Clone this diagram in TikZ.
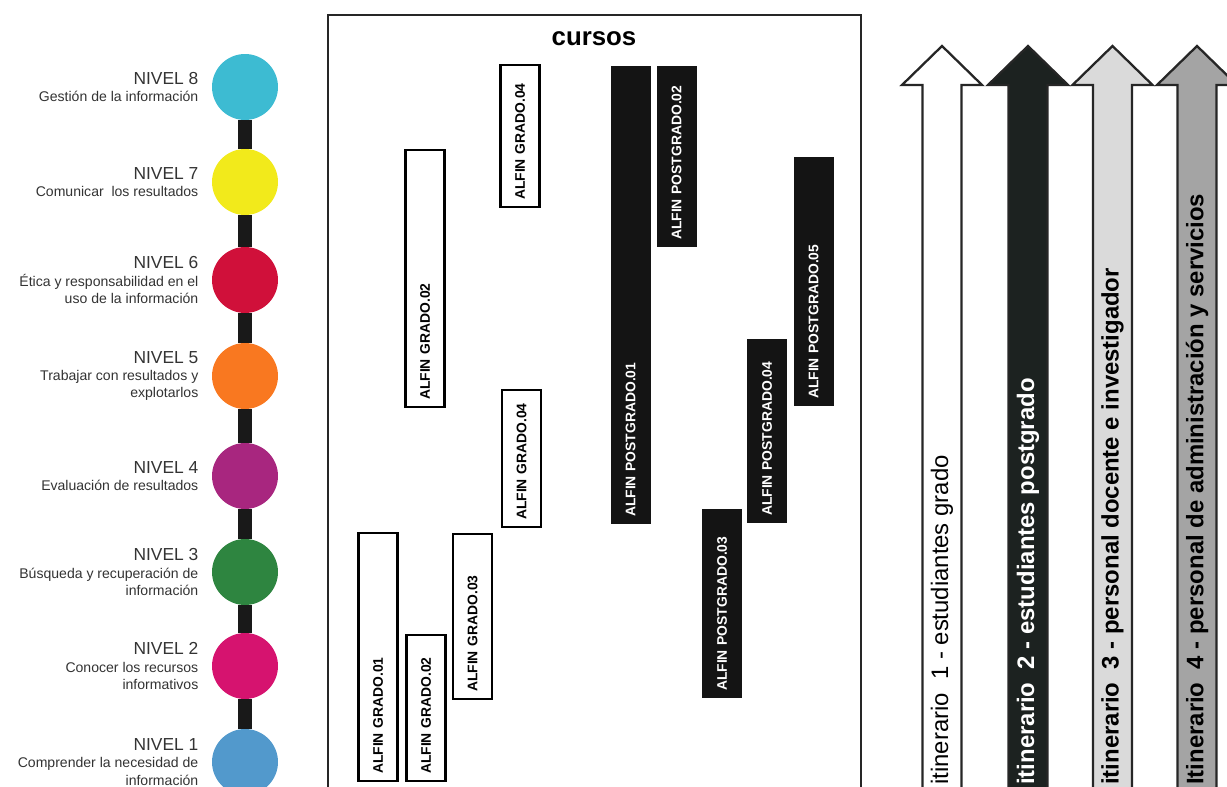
\documentclass[tikz,border=0pt]{standalone}
\usepackage{fontspec}
\setmainfont{Liberation Sans}
\usetikzlibrary{positioning,backgrounds}

\definecolor{niv8}{HTML}{3DBBD2}
\definecolor{niv7}{HTML}{F2EA1B}
\definecolor{niv6}{HTML}{D0103A}
\definecolor{niv5}{HTML}{F97820}
\definecolor{niv4}{HTML}{A8267F}
\definecolor{niv3}{HTML}{2E8540}
\definecolor{niv2}{HTML}{D6136F}
\definecolor{niv1}{HTML}{5299CC}
\definecolor{oscuro}{HTML}{1C2220}
\definecolor{grisclaro}{HTML}{DADADA}
\definecolor{grismedio}{HTML}{A4A4A4}

\newcommand{\nivfont}{\fontsize{9.9}{11}\selectfont}

\tikzset{
  nivel/.style={circle, minimum size=1.32cm, inner sep=0pt},
  nivtexto/.style={align=right, text=black!80, inner sep=0pt,
                   font=\fontsize{8}{9.8}\selectfont},
  enlace/.style={line width=8pt, black!90},
  caja/.style={line width=1.1pt, black!85, line join=miter},
  grado/.style={draw, line width=1.3pt, fill=white, rotate=90, anchor=west,
                minimum height=0.78cm, inner xsep=0.14cm, inner ysep=0pt,
                align=left, font=\bfseries\fontsize{7.9}{8}\selectfont},
  postgrado/.style={grado, draw=none, fill=black!92, text=white,
                    minimum height=0.8cm},
  flecha/.style={draw=black!85, line width=1.3pt, line join=miter},
  itin/.style={rotate=90, anchor=west, inner sep=0pt,
               font=\fontsize{13.6}{14}\selectfont},
  itinb/.style={itin, font=\bfseries\fontsize{13.6}{14}\selectfont},
  itinw/.style={itinb, text=white}
}

\begin{document}
\begin{tikzpicture}[x=0.02cm, y=-0.02cm]
     \useasboundingbox (0,0) rectangle (1227,787);
     \clip (0,0) rectangle (1227,787);

     % levels of competence
     \foreach \i/\y in {8/87,7/182,6/280,5/376,4/476,3/572,2/666,1/762}
         \node[nivel, fill=niv\i] (n\i) at (245,\y) {};
     \begin{pgfonlayer}{background}
     \foreach \i [evaluate=\i as \j using int(\i-1)] in {8,...,2}
         \draw[enlace] (n\i) -- (n\j);
     \end{pgfonlayer}
     \foreach \i/\txt in {8/Gestión de la información,
                          7/Comunicar\ \ los resultados,
                          6/Ética y responsabilidad\ en el\\uso de la información,
                          5/Trabajar\ con resultados y\\explotarlos,
                          4/Evaluación de resultados,
                          3/Búsqueda y recuperación\ de\\información,
                          2/Conocer los recursos\\informativos,
                          1/Comprender\ la necesidad de\\información}
         \node[nivtexto, left=0.26cm of n\i] (t\i) {{\nivfont NIVEL \i}\\\txt};

     % courses box
     \draw[caja] (328,800) |- (861,15) -- (861,800);
     \node[font=\bfseries\fontsize{14.7}{16}\selectfont] (cursos) at (594,39) {cursos};

     % grado courses (white)
     \foreach \xc/\yt/\yb/\nm/\txt in {378/533/782/g01/ALFIN GRADO.01,
                                        425/150/408/g02a/ALFIN GRADO.02,
                                        426/635/782/g02b/ALFIN GRADO.02,
                                        472.5/534/700/g03/ALFIN GRADO.03,
                                        520/65/208/g04a/ALFIN GRADO.04,
                                        521.5/390/528/g04b/ALFIN GRADO.04}
     {
         \pgfmathsetmacro\largo{(\yb-\yt)*0.02-0.3}
         \node[grado, text width=\largo cm] (\nm) at (\xc,\yb) {\txt};
     }
     % postgrado courses (black)
     \foreach \xc/\yt/\yb/\nm/\txt in {630.5/66/525/p01/ALFIN POSTGRADO.01,
                                        676.5/66/248/p02/ALFIN POSTGRADO.02,
                                        722/509/699/p03/ALFIN POSTGRADO.03,
                                        767/339/524/p04/ALFIN POSTGRADO.04,
                                        813.5/157/407/p05/ALFIN POSTGRADO.05}
     {
         \pgfmathsetmacro\largo{(\yb-\yt)*0.02-0.3}
         \node[postgrado, text width=\largo cm] (\nm) at (\xc,\yb) {\txt};
     }

     % itineraries as big arrows
     \foreach \cx/\relleno/\estilo/\nm/\txt in {942/white/itin/it1/itinerario\ \ 1 - estudiantes grado,
                                                 1028/oscuro/itinw/it2/itinerario\ \ 2 - estudiantes postgrado,
                                                 1112.5/grisclaro/itinb/it3/itinerario\ \ 3 - personal docente e investigador,
                                                 1197/grismedio/itinb/it4/Itinerario\ \ 4 - personal de administración y servicios}
     {
         \draw[flecha, fill=\relleno] (\cx-19.5,800) -- (\cx-19.5,85) -- (\cx-40,85) -- (\cx,46)
              -- (\cx+40,85) -- (\cx+19.5,85) -- (\cx+19.5,800) -- cycle;
         \node[\estilo] (\nm) at (\cx,785) {\txt};
     }
\end{tikzpicture}
\end{document}
